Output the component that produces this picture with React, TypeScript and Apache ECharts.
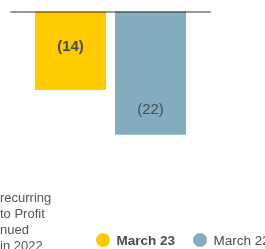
import React, { useEffect, useRef } from "react";
import * as echarts from "echarts";

const categories = ["recurring to Profit nued in 2022"];
const categoryLines = ["recurring", "to Profit", "nued", "in 2022"];
const seriesNames = ["March 23", "March 22"];
const march23 = [-14];
const march22 = [-22];

const YELLOW = "#FFCB00";
const BLUE = "#84AEBF";
const TEXT = "#4A4A4A";
const FONT = "'Liberation Sans', Arial, Helvetica, sans-serif";

export default function App() {
  const ref = useRef<HTMLDivElement>(null);
  useEffect(() => {
    if (!ref.current) return;
    const chart = echarts.init(ref.current, null, { renderer: "svg" });
    const fmt = (p: any) => `(${Math.abs(p.value)})`;
    chart.setOption({
      animation: false,
      textStyle: { fontFamily: FONT },
      grid: { left: 11, top: 11.5, width: 199, height: 168, containLabel: false },
      xAxis: {
        type: "category",
        position: "top",
        data: categories,
        z: 5,
        axisLine: { lineStyle: { color: "rgba(0,0,0,0.4)", width: 2 } },
        axisTick: { show: false },
        axisLabel: { show: false },
        splitLine: { show: false },
      },
      yAxis: {
        type: "value",
        min: -30,
        max: 0,
        show: false,
      },
      legend: {
        left: 91,
        top: 228,
        width: 260,
        icon: "circle",
        itemWidth: 17,
        itemHeight: 14,
        itemGap: 18,
        textStyle: { fontSize: 13.5, color: TEXT, fontFamily: FONT },
        data: [
          { name: seriesNames[0], textStyle: { fontWeight: "bold" } },
          { name: seriesNames[1], textStyle: { fontWeight: "normal" } },
        ],
      },
      series: [
        {
          name: seriesNames[0],
          type: "bar",
          barWidth: 71,
          barGap: "12.7%",
          itemStyle: { color: YELLOW },
          label: {
            show: true,
            position: "inside",
            offset: [0, -5],
            formatter: fmt,
            fontSize: 15,
            fontWeight: "bold",
            color: TEXT,
            fontFamily: FONT,
          },
          data: march23,
        },
        {
          name: seriesNames[1],
          type: "bar",
          barWidth: 71,
          barGap: "12.7%",
          itemStyle: { color: BLUE },
          label: {
            show: true,
            position: "inside",
            offset: [0, 35],
            formatter: fmt,
            fontSize: 15,
            fontWeight: "normal",
            color: TEXT,
            fontFamily: FONT,
          },
          data: march22,
        },
      ],
      graphic: [
        {
          type: "text",
          left: 0,
          top: 189,
          style: {
            text: categoryLines.join("\n"),
            fontSize: 13,
            lineHeight: 16,
            fill: "#555555",
            fontFamily: FONT,
            align: "left",
          },
        },
      ],
    });
    return () => chart.dispose();
  }, []);
  return (
    <div
      ref={ref}
      style={{ position: "fixed", left: 0, top: 0, width: 265, height: 249 }}
    />
  );
}
